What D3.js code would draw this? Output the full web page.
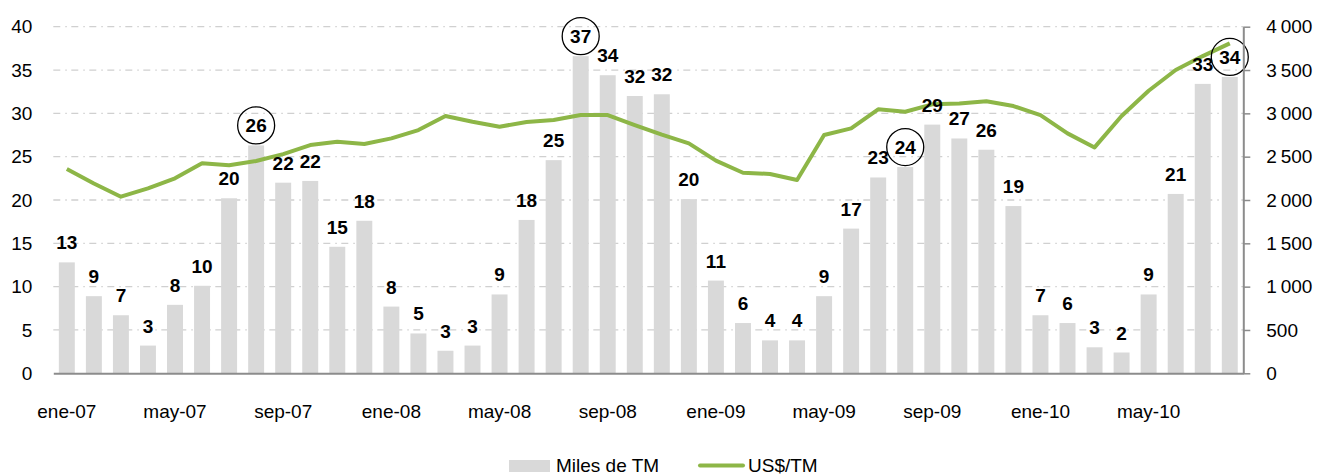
<!DOCTYPE html>
<html>
<head>
<meta charset="utf-8">
<script src="https://cdn.jsdelivr.net/npm/d3@7"></script>
<style>
  body { margin: 0; background: #fff; }
  svg { display: block; font-family: "Liberation Sans", Arial, sans-serif; }
</style>
</head>
<body>
<svg id="chart" width="1321" height="476"></svg>
<script>
// months ene-07 .. ago-10
var MONTH_NAMES = ["ene", "feb", "mar", "abr", "may", "jun", "jul", "ago", "sep", "oct", "nov", "dic"];
var YEARS = ["07", "08", "09", "10"];
var MONTH_COUNT = 44;

// Miles de TM (bars)
var VOLUMES = [12.8, 8.9, 6.7, 3.2, 7.9, 10.1, 20.2, 26.3, 22.0, 22.2, 14.6, 17.6,
               7.7, 4.6, 2.6, 3.2, 9.1, 17.7, 24.6, 36.6, 34.4, 32.0, 32.2, 20.1,
               10.7, 5.8, 3.8, 3.8, 8.9, 16.7, 22.6, 23.8, 28.7, 27.1, 25.8, 19.3,
               6.7, 5.8, 3.0, 2.4, 9.1, 20.7, 33.4, 34.2];

// US$/TM (line)
var PRICES = [2357, 2190, 2038, 2134, 2250, 2423, 2400, 2450, 2530, 2634, 2672, 2646,
              2711, 2807, 2969, 2903, 2846, 2900, 2923, 2980, 2980, 2865, 2755, 2654,
              2454, 2315, 2300, 2230, 2750, 2827, 3046, 3019, 3104, 3115, 3140, 3084,
              2980, 2769, 2607, 2969, 3261, 3500, 3661, 3808];

// circled peaks (index into the month list)
var HIGHLIGHTS = [7, 19, 31, 43];

var LEFT_TICKS = [0, 5, 10, 15, 20, 25, 30, 35, 40];
var RIGHT_TICKS = [0, 500, 1000, 1500, 2000, 2500, 3000, 3500, 4000];

var SERIES_NAMES = ["Miles de TM", "US$/TM"];

var BAR_COLOR = "#d9d9d9";
var LINE_COLOR = "#8db647";
var AXIS_COLOR = "#8c8c8c";

var months = d3.range(MONTH_COUNT).map(function (i) {
    return MONTH_NAMES[i % 12] + "-" + YEARS[Math.floor(i / 12)];
});

var margin = { left: 53.3, right: 1321 - 1243.3, top: 26.7, bottom: 476 - 373.3 };
var svg = d3.select("#chart");
var width = +svg.attr("width") - margin.left - margin.right;
var height = +svg.attr("height") - margin.top - margin.bottom;
var chart = svg.append("g").attr("transform", "translate(" + margin.left + "," + margin.top + ")");

var x = d3.scaleBand().domain(months).range([0, width]).paddingInner(0.41).paddingOuter(0.205);
var yLeft = d3.scaleLinear().domain([0, 40]).range([height, 0]);
var yRight = d3.scaleLinear().domain([0, 4000]).range([height, 0]);

var fmt = d3.formatLocale({ decimal: ",", thousands: "\u2009", grouping: [3], currency: ["$", ""] }).format(",d");

// gridlines
chart.append("g").selectAll("line")
    .data(LEFT_TICKS.filter(function (d) { return d > 0; }))
    .enter().append("line")
    .attr("x1", 0).attr("x2", width)
    .attr("y1", function (d) { return yLeft(d); })
    .attr("y2", function (d) { return yLeft(d); })
    .attr("stroke", "#d0d0d0").attr("stroke-width", 1.3)
    .attr("stroke-dasharray", "7,5,1.5,4.5");

// bars
chart.append("g").selectAll("rect")
    .data(VOLUMES)
    .enter().append("rect")
    .attr("x", function (d, i) { return x(months[i]); })
    .attr("width", x.bandwidth())
    .attr("y", function (d) { return yLeft(d); })
    .attr("height", function (d) { return height - yLeft(d); })
    .attr("fill", BAR_COLOR);

// price line
var line = d3.line()
    .x(function (d, i) { return x(months[i]) + x.bandwidth() / 2; })
    .y(function (d) { return yRight(d); });

chart.append("path")
    .datum(PRICES)
    .attr("d", line)
    .attr("fill", "none")
    .attr("stroke", LINE_COLOR)
    .attr("stroke-width", 4)
    .attr("stroke-linejoin", "round");

// bar labels
var labels = chart.append("g").selectAll("g")
    .data(VOLUMES)
    .enter().append("g")
    .attr("transform", function (d, i) {
        return "translate(" + (x(months[i]) + x.bandwidth() / 2) + "," + (yLeft(d) - 13) + ")";
    });

labels.append("text")
    .attr("text-anchor", "middle")
    .attr("font-size", 19)
    .attr("font-weight", "bold")
    .attr("fill", "#000")
    .text(function (d) { return Math.round(d); });

labels.filter(function (d, i) { return HIGHLIGHTS.indexOf(i) >= 0; })
    .append("circle")
    .attr("cx", 0).attr("cy", -7)
    .attr("r", 18.5)
    .attr("fill", "none")
    .attr("stroke", "#000")
    .attr("stroke-width", 1.3);

// axes
var leftAxis = chart.append("g")
    .call(d3.axisLeft(yLeft).tickValues(LEFT_TICKS).tickSize(0).tickPadding(21));
leftAxis.select(".domain").remove();
leftAxis.selectAll("text").attr("font-size", 19).attr("font-family", null).attr("fill", "#000");

var rightAxis = chart.append("g")
    .attr("transform", "translate(" + width + ",0)")
    .call(d3.axisRight(yRight).tickValues(RIGHT_TICKS).tickSize(7).tickPadding(16).tickFormat(fmt).tickSizeOuter(0));
rightAxis.select(".domain").attr("stroke", AXIS_COLOR).attr("stroke-width", 2);
rightAxis.selectAll("line").attr("stroke", AXIS_COLOR).attr("stroke-width", 1.5);
rightAxis.selectAll("text").attr("font-size", 19).attr("font-family", null).attr("fill", "#000");

var bottomAxis = chart.append("g")
    .attr("transform", "translate(0," + height + ")")
    .call(d3.axisBottom(x)
        .tickValues(months.filter(function (d, i) { return i % 4 === 0; }))
        .tickSize(0).tickPadding(31).tickSizeOuter(0));
bottomAxis.select(".domain").attr("stroke", AXIS_COLOR).attr("stroke-width", 2);
bottomAxis.selectAll("text").attr("font-size", 19).attr("font-family", null).attr("fill", "#000");

// legend
var legend = svg.append("g").attr("font-size", 19);
legend.append("rect")
    .attr("x", 509).attr("y", 460).attr("width", 41).attr("height", 12)
    .attr("fill", BAR_COLOR);
legend.append("text").attr("x", 556).attr("y", 472).text(SERIES_NAMES[0]);
legend.append("line")
    .attr("x1", 700).attr("x2", 743).attr("y1", 465.5).attr("y2", 465.5)
    .attr("stroke", LINE_COLOR).attr("stroke-width", 4).attr("stroke-linecap", "round");
legend.append("text").attr("x", 748).attr("y", 472).text(SERIES_NAMES[1]);
</script>
</body>
</html>
